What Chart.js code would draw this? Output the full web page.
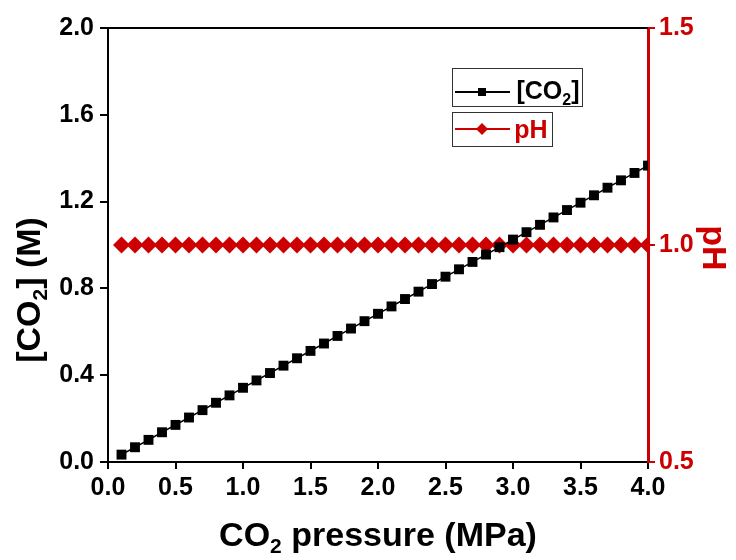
<!DOCTYPE html>
<html>
<head>
<meta charset="utf-8">
<script src="https://cdn.jsdelivr.net/npm/chart.js@4.4.0/dist/chart.umd.min.js"></script>
<style>
  html, body { margin: 0; padding: 0; background: #fff; }
</style>
</head>
<body>
<canvas id="chart" width="736" height="560"></canvas>
<script>
// Data
const pressure = [0.1, 0.2, 0.3, 0.4, 0.5, 0.6, 0.7, 0.8, 0.9, 1.0,
                  1.1, 1.2, 1.3, 1.4, 1.5, 1.6, 1.7, 1.8, 1.9, 2.0,
                  2.1, 2.2, 2.3, 2.4, 2.5, 2.6, 2.7, 2.8, 2.9, 3.0,
                  3.1, 3.2, 3.3, 3.4, 3.5, 3.6, 3.7, 3.8, 3.9, 4.0];
const co2Conc = [0.034, 0.068, 0.102, 0.137, 0.171, 0.205, 0.239, 0.273, 0.307, 0.342,
                 0.376, 0.410, 0.444, 0.478, 0.512, 0.546, 0.581, 0.615, 0.649, 0.683,
                 0.717, 0.751, 0.785, 0.820, 0.854, 0.888, 0.922, 0.956, 0.990, 1.025,
                 1.059, 1.093, 1.127, 1.161, 1.195, 1.229, 1.264, 1.298, 1.332, 1.366];
const phValues = [1.0, 1.0, 1.0, 1.0, 1.0, 1.0, 1.0, 1.0, 1.0, 1.0,
                  1.0, 1.0, 1.0, 1.0, 1.0, 1.0, 1.0, 1.0, 1.0, 1.0,
                  1.0, 1.0, 1.0, 1.0, 1.0, 1.0, 1.0, 1.0, 1.0, 1.0,
                  1.0, 1.0, 1.0, 1.0, 1.0, 1.0, 1.0, 1.0, 1.0, 1.0];

const RED = '#cc0000';
const FONT = "'Liberation Sans', Arial, sans-serif";

// draw text with subscript parts, centred on x, baseline at y
function drawRich(ctx, parts, x, y, size, color) {
    const subSize = Math.round(size * 0.62);
    let total = 0;
    parts.forEach(p => {
        ctx.font = `bold ${p.sub ? subSize : size}px ${FONT}`;
        p.w = ctx.measureText(p.t).width;
        total += p.w;
    });
    let cx = x - total / 2;
    ctx.fillStyle = color;
    ctx.textAlign = 'left';
    ctx.textBaseline = 'alphabetic';
    parts.forEach(p => {
        ctx.font = `bold ${p.sub ? subSize : size}px ${FONT}`;
        ctx.fillText(p.t, cx, p.sub ? y + size * 0.22 : y);
        cx += p.w;
    });
}

const decorPlugin = {
    id: 'decor',
    afterDraw(chart) {
        const ctx = chart.ctx;
        const area = chart.chartArea;
        ctx.save();

        // top frame line
        ctx.strokeStyle = '#000';
        ctx.lineWidth = 2;
        ctx.beginPath();
        ctx.moveTo(area.left - 1, area.top);
        ctx.lineTo(area.right, area.top);
        ctx.stroke();

        // axis titles
        drawRich(ctx, [{t: 'CO'}, {t: '2', sub: true}, {t: ' pressure (MPa)'}],
                 (area.left + area.right) / 2, 546, 34, '#000');

        ctx.save();
        ctx.translate(28, 290);
        ctx.rotate(-Math.PI / 2);
        drawRich(ctx, [{t: '[CO'}, {t: '2', sub: true}, {t: '] (M)'}], 0, 12, 34, '#000');
        ctx.restore();

        ctx.save();
        ctx.translate(715, 248);
        ctx.rotate(Math.PI / 2);
        drawRich(ctx, [{t: 'pH'}], 0, 12, 34, RED);
        ctx.restore();

        // legend boxes
        ctx.lineWidth = 1;
        ctx.strokeStyle = '#333';
        ctx.strokeRect(452.5, 68.5, 130, 38);
        ctx.strokeRect(452.5, 112.5, 100, 34);

        ctx.lineWidth = 2;
        ctx.strokeStyle = '#000';
        ctx.beginPath();
        ctx.moveTo(455, 92);
        ctx.lineTo(510, 92);
        ctx.stroke();
        ctx.fillStyle = '#000';
        ctx.fillRect(478, 88, 8, 8);
        drawRich(ctx, [{t: '[CO'}, {t: '2', sub: true}, {t: ']'}], 548, 99, 25, '#000');

        ctx.strokeStyle = RED;
        ctx.beginPath();
        ctx.moveTo(455, 129);
        ctx.lineTo(510, 129);
        ctx.stroke();
        ctx.fillStyle = RED;
        ctx.beginPath();
        ctx.moveTo(482, 123);
        ctx.lineTo(488, 129);
        ctx.lineTo(482, 135);
        ctx.lineTo(476, 129);
        ctx.closePath();
        ctx.fill();
        drawRich(ctx, [{t: 'pH'}], 531, 138, 25, RED);

        ctx.restore();
    }
};

const tickFont = { family: FONT, size: 25, weight: 'bold' };

new Chart(document.getElementById('chart'), {
    type: 'line',
    data: {
        labels: pressure,
        datasets: [{
            label: '[CO2]',
            data: pressure.map((p, i) => ({x: p, y: co2Conc[i]})),
            yAxisID: 'y',
            borderColor: '#000',
            backgroundColor: '#000',
            borderWidth: 1.5,
            pointStyle: 'rect',
            pointRadius: 7,
            pointBorderWidth: 0,
            tension: 0
        }, {
            label: 'pH',
            data: pressure.map((p, i) => ({x: p, y: phValues[i]})),
            yAxisID: 'y1',
            borderColor: RED,
            backgroundColor: RED,
            borderWidth: 2,
            pointStyle: 'rectRot',
            pointRadius: 8.5,
            pointBorderWidth: 0,
            tension: 0
        }]
    },
    options: {
        responsive: false,
        animation: false,
        layout: { padding: { top: 28 } },
        plugins: { legend: { display: false }, tooltip: { enabled: false } },
        scales: {
            x: {
                type: 'linear',
                min: 0, max: 4,
                afterFit: s => { s.height = 98; },
                ticks: { stepSize: 0.5, color: '#000', font: tickFont, padding: 4,
                         maxRotation: 0, callback: v => v.toFixed(1) },
                grid: { drawOnChartArea: false, tickLength: 7, color: '#000', lineWidth: 2 },
                border: { color: '#000', width: 2 }
            },
            y: {
                position: 'left',
                min: 0, max: 2,
                afterFit: s => { s.width = 108; },
                ticks: { stepSize: 0.4, color: '#000', font: tickFont, padding: 6,
                         callback: v => v.toFixed(1) },
                grid: { drawOnChartArea: false, tickLength: 8, color: '#000', lineWidth: 2 },
                border: { color: '#000', width: 2 }
            },
            y1: {
                position: 'right',
                min: 0.5, max: 1.5,
                afterFit: s => { s.width = 88; },
                ticks: { stepSize: 0.5, color: RED, font: tickFont, padding: 4,
                         callback: v => v.toFixed(1) },
                grid: { drawOnChartArea: false, tickLength: 7, color: RED, lineWidth: 2 },
                border: { color: RED, width: 3 }
            }
        }
    },
    plugins: [decorPlugin]
});
</script>
</body>
</html>
